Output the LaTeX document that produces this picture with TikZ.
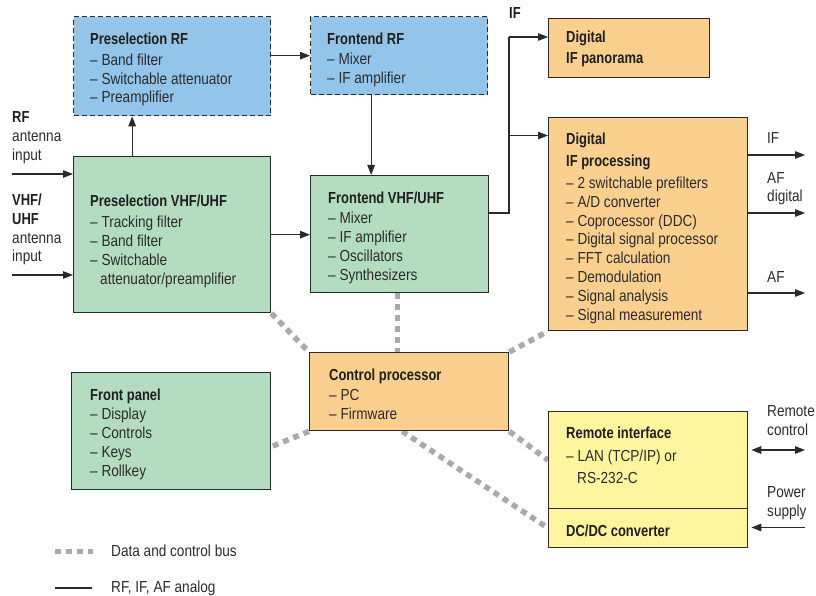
\documentclass[tikz,border=0pt]{standalone}
\usepackage{fontspec}
\setmainfont[FakeStretch=0.85, BoldFeatures={FakeStretch=0.81}]{Liberation Sans}
\usetikzlibrary{arrows.meta,backgrounds}
\definecolor{cblue}{HTML}{93C5EA}
\definecolor{cgreen}{HTML}{B3DCC0}
\definecolor{corange}{HTML}{FBCF8E}
\definecolor{cyellow}{HTML}{FEF59E}
\definecolor{cline}{HTML}{2A2A2A}
\definecolor{ctext}{HTML}{2C2C2C}
\definecolor{cbus}{HTML}{A9AAAD}
\tikzset{
  box/.style={draw=cline, line width=1.3pt, anchor=north west, inner sep=0pt},
  dbox/.style={box, dash pattern=on 5pt off 3pt},
  txt/.style={anchor=base west, inner sep=0pt, text=ctext, font=\fontsize{16}{19}\selectfont},
  btxt/.style={txt, text=black!88, font=\fontsize{16}{19}\selectfont\bfseries},
  sig/.style={draw=cline, line width=1.3pt},
  arr/.style={sig, -{Triangle[length=10pt,width=7.5pt]}},
  darr/.style={sig, {Triangle[length=10pt,width=7.5pt]}-{Triangle[length=10pt,width=7.5pt]}},
  bus/.style={draw=cbus, line width=5.5pt, dash pattern=on 6pt off 5pt}
}
\begin{document}
\begin{tikzpicture}[x=1pt,y=-1pt]
\useasboundingbox (0,0) rectangle (816,596);
% boxes
\node[dbox, fill=cblue, minimum width=197, minimum height=99] (prf) at (73,16) {};
\node[dbox, fill=cblue, minimum width=177, minimum height=78] (frf) at (310,16) {};
\node[box, fill=corange, minimum width=161, minimum height=59] (pan) at (548,18) {};
\node[box, fill=corange, minimum width=199, minimum height=213] (dip) at (548,117) {};
\node[box, fill=cgreen, minimum width=197, minimum height=156] (pvu) at (73,156) {};
\node[box, fill=cgreen, minimum width=178, minimum height=117] (fvu) at (310,175) {};
\node[box, fill=corange, minimum width=199, minimum height=78] (cp) at (309,352) {};
\node[box, fill=cgreen, minimum width=199, minimum height=117] (fp) at (71,372) {};
\node[box, fill=cyellow, minimum width=199, minimum height=97] (ri) at (548,411) {};
\node[box, fill=cyellow, minimum width=199, minimum height=39] (dc) at (548,508) {};

% bus lines
\begin{pgfonlayer}{background}
\draw[bus] (pvu.south east) -- (cp.north west);
\draw[bus] ([xshift=-2pt]fvu.south) -- ([xshift=-2pt]fvu.south |- cp.north);
\draw[bus] (cp.north east) -- (dip.south west);
\draw[bus] (cp.south west) -- ([yshift=-15.5pt]fp.east);
\draw[bus] (cp.south east) -- (ri.west);
\draw[bus] ([xshift=-7pt]cp.south) -- (dc.west);
\end{pgfonlayer}

% signal connectors
\draw[arr] (prf.east |- frf.west) -- (frf.west);
\draw[arr] ([xshift=-28pt]frf.south) -- ([xshift=-28pt]frf.south |- fvu.north);
\draw[arr] ([xshift=-40pt]pvu.north) -- ([xshift=-40pt]pvu.north |- prf.south);
\draw[arr] (pvu.east) -- (pvu.east -| fvu.west);
\coordinate (ifj) at (509,213);
\coordinate (iftop) at (509,37);
\coordinate (ifmid) at (509,135.5);
\draw[sig] (fvu.east |- ifj) -- (ifj) -- (iftop);
\draw[arr] (iftop) -- (pan.west |- iftop);
\draw[arr] (ifmid) -- (dip.west |- ifmid);
\coordinate (o1) at (805,155);
\coordinate (o2) at (805,213);
\coordinate (o3) at (805,293);
\draw[arr] (dip.east |- o1) -- (o1);
\draw[arr] (dip.east |- o2) -- (o2);
\draw[arr] (dip.east |- o3) -- (o3);
\coordinate (i1) at (12,174);
\coordinate (i2) at (12,275);
\draw[arr] (i1) -- (pvu.west |- i1);
\draw[arr] (i2) -- (pvu.west |- i2);
\coordinate (rc) at (805,450);
\draw[darr] ([xshift=3pt]ri.east |- rc) -- (rc);
\coordinate (ps) at (805,527.5);
\draw[arr] (ps) -- ([xshift=3pt]dc.east |- ps);

% texts
\node[btxt] (prf0) at (90,45) {Preselection RF};
\node[txt] (prf1) at (90,65.5) {\textendash{} Band filter};
\node[txt] (prf2) at (90,84.3) {\textendash{} Switchable attenuator};
\node[txt] (prf3) at (90,103) {\textendash{} Preamplifier};

\node[btxt] (frf0) at (327,45) {Frontend RF};
\node[txt] (frf1) at (327,64.5) {\textendash{} Mixer};
\node[txt] (frf2) at (327,84) {\textendash{} IF amplifier};

\node[btxt] (pan0) at (566,42.7) {Digital};
\node[btxt] (pan1) at (566,64) {IF panorama};

\node[btxt] (dip0) at (566,145) {Digital};
\node[btxt] (dip1) at (566,167) {IF processing};
\node[txt] (dip2) at (566,188.5) {\textendash{} 2 switchable prefilters};
\node[txt] (dip3) at (566,207.3) {\textendash{} A/D converter};
\node[txt] (dip4) at (566,226.1) {\textendash{} Coprocessor (DDC)};
\node[txt] (dip5) at (566,244.9) {\textendash{} Digital signal processor};
\node[txt] (dip6) at (566,263.7) {\textendash{} FFT calculation};
\node[txt] (dip7) at (566,282.5) {\textendash{} Demodulation};
\node[txt] (dip8) at (566,301.3) {\textendash{} Signal analysis};
\node[txt] (dip9) at (566,320.1) {\textendash{} Signal measurement};

\node[btxt] (pvu0) at (90,206.7) {Preselection VHF/UHF};
\node[txt] (pvu1) at (90,227.3) {\textendash{} Tracking filter};
\node[txt] (pvu2) at (90,246.5) {\textendash{} Band filter};
\node[txt] (pvu3) at (90,265.7) {\textendash{} Switchable};
\node[txt] (pvu4) at (100,284) {attenuator/preamplifier};

\node[btxt] (fvu0) at (328,203.3) {Frontend VHF/UHF};
\node[txt] (fvu1) at (328,223.3) {\textendash{} Mixer};
\node[txt] (fvu2) at (328,242.5) {\textendash{} IF amplifier};
\node[txt] (fvu3) at (328,261.7) {\textendash{} Oscillators};
\node[txt] (fvu4) at (328,280.7) {\textendash{} Synthesizers};

\node[btxt] (cp0) at (329,380) {Control processor};
\node[txt] (cp1) at (329,400.5) {\textendash{} PC};
\node[txt] (cp2) at (329,419.5) {\textendash{} Firmware};

\node[btxt] (fp0) at (90,400) {Front panel};
\node[txt] (fp1) at (90,419.5) {\textendash{} Display};
\node[txt] (fp2) at (90,438.5) {\textendash{} Controls};
\node[txt] (fp3) at (90,457.5) {\textendash{} Keys};
\node[txt] (fp4) at (90,476.5) {\textendash{} Rollkey};

\node[btxt] (ri0) at (566,438.3) {Remote interface};
\node[txt] (ri1) at (566,461) {\textendash{} LAN (TCP/IP) or};
\node[txt] (ri2) at (577,483) {RS-232-C};
\node[btxt] (dc0) at (566,536.7) {DC/DC converter};

\node[btxt] (l1) at (12,122.7) {RF};
\node[txt] (l2) at (12,142) {antenna};
\node[txt] (l3) at (12,160.5) {input};
\node[btxt] (l4) at (12,205.5) {VHF/};
\node[btxt] (l5) at (12,224.5) {UHF};
\node[txt] (l6) at (12,243.3) {antenna};
\node[txt] (l7) at (12,261.5) {input};

\node[btxt] (iflab) at (509,18.3) {IF};
\node[txt] (r1) at (767,143.5) {IF};
\node[txt] (r2) at (767,183) {AF};
\node[txt] (r3) at (767,201) {digital};
\node[txt] (r4) at (767,282) {AF};
\node[txt] (r5) at (767,416.7) {Remote};
\node[txt] (r6) at (767,435) {control};
\node[txt] (r7) at (767,497.5) {Power};
\node[txt] (r8) at (767,516) {supply};

% legend
\coordinate (lg1) at (55,551.5);
\coordinate (lg2) at (93,551.5);
\draw[bus] (lg1) -- (lg2);
\node[txt] (lgt1) at (111,556) {Data and control bus};
\coordinate (lg3) at (55,588);
\coordinate (lg4) at (92,588);
\draw[sig] (lg3) -- (lg4);
\node[txt] (lgt2) at (111,592.5) {RF, IF, AF analog};
\end{tikzpicture}
\end{document}
